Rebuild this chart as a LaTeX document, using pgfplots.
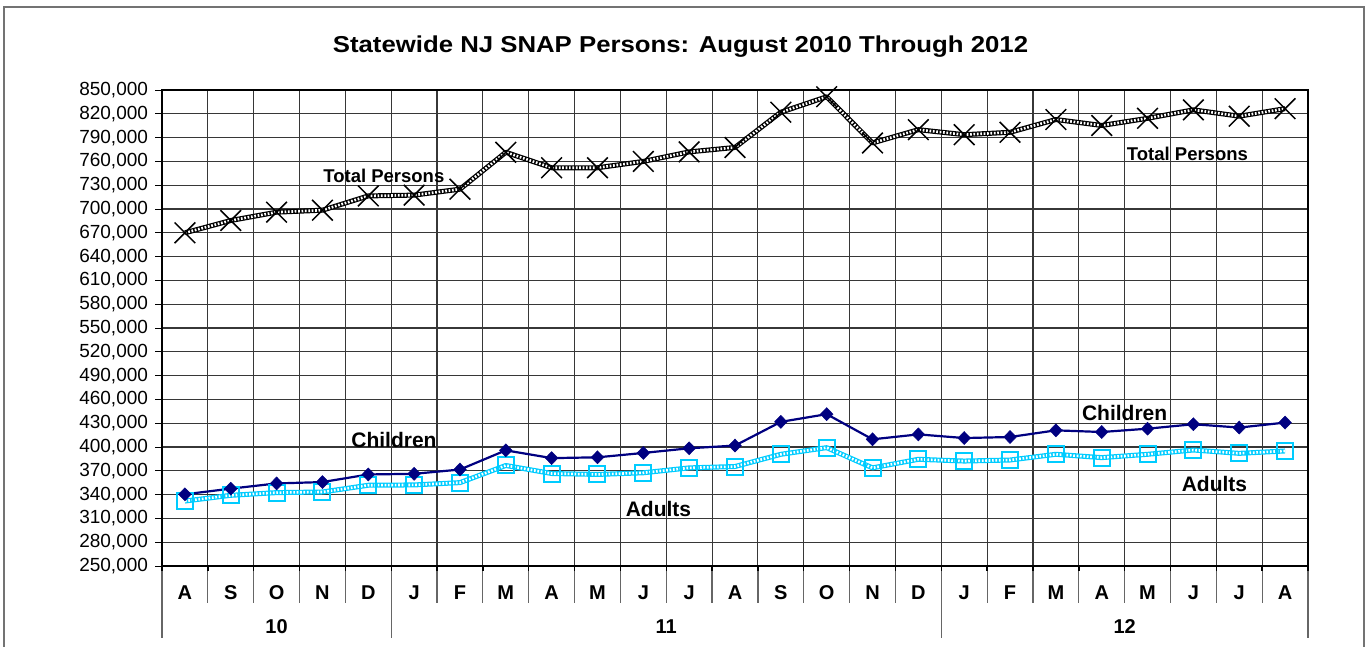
\documentclass[border=0pt]{standalone}
\usepackage{fontspec}
\setmainfont{Liberation Sans}
\newfontfamily\titlefont[FakeStretch=1.12]{Liberation Sans}
\usepackage{pgfplots}
\usepackage{pgfplotstable}
\pgfplotsset{compat=1.18}
\definecolor{navyc}{RGB}{0,0,128}
\definecolor{cyanc}{RGB}{0,204,255}
\definecolor{gridc}{RGB}{55,55,55}

\pgfplotstableread{
x total children adults
0 670000 340400 331900
1 685500 347500 339100
2 696000 354100 342500
3 698500 355800 343300
4 716500 365400 351800
5 717500 366200 352200
6 725000 371600 355100
7 771500 395800 376700
8 752000 386000 366600
9 752000 387000 365400
10 760000 392500 367500
11 772000 398400 373700
12 777600 401800 375400
13 822000 431700 390800
14 841500 441400 399200
15 783300 409700 373700
16 800000 415900 384500
17 793700 411300 382300
18 796700 412600 383600
19 812800 421000 390800
20 805300 418900 386600
21 814300 423100 390800
22 825000 428700 396200
23 817000 424500 392000
24 826500 430800 395000
}\snap

\begin{document}
\begin{tikzpicture}
\path[use as bounding box] (0,0) rectangle (1371bp,-647bp);
\draw[black!55, line width=1.3bp] (4bp,-650bp) -- (4bp,-7bp) -- (1364bp,-7bp) -- (1364bp,-650bp);
\node[font=\titlefont\fontsize{23bp}{27bp}\selectfont\bfseries] at (680.5bp,-47bp) {Statewide NJ SNAP Persons: August 2010 Through 2012};
\begin{axis}[
  at={(162bp,-566bp)}, anchor=south west,
  scale only axis, width=1146bp, height=476bp,
  xmin=-0.5, xmax=24.5, ymin=250000, ymax=850000,
  clip=false,
  xtick={0,...,24},
  xticklabels={},
  minor x tick num=1,
  xminorgrids,
  xtick style={draw=none},
  ytick={250000,280000,310000,340000,370000,400000,430000,460000,490000,520000,550000,580000,610000,640000,670000,700000,730000,760000,790000,820000,850000},
  ymajorgrids,
  ytick pos=left,
  tick align=outside,
  major tick length=7bp,
  ytick style={black, line width=1bp},
  scaled y ticks=false,
  yticklabel style={font=\fontsize{19bp}{22bp}\selectfont, xshift=-3.5bp,
    /pgf/number format/.cd, fixed, precision=0, 1000 sep={,}, assume math mode=true},
  grid style={gridc, line width=1.1bp},
  minor grid style={gridc, line width=1.1bp},
  axis line style={black, line width=1.3bp},
]
% Total persons
\addplot[black, line width=5bp, line join=round,
  postaction={draw=white, line width=2.6bp, dash pattern=on 1.7bp off 1.7bp}]
  table[x=x, y=total] {\snap};
\addplot[only marks, mark=x, mark size=14.6bp, mark options={black, line width=1.5bp}]
  table[x=x, y=total] {\snap};
% Adults
\addplot[cyanc, line width=5bp, line join=round,
  postaction={draw=white, line width=2.6bp, dash pattern=on 1.7bp off 1.7bp}]
  table[x=x, y=adults] {\snap};
\addplot[only marks, mark=square, mark size=8bp, mark options={cyanc, line width=2bp}]
  table[x=x, y=adults] {\snap};
% Children
\addplot[navyc, line width=2.2bp, mark=diamond*, mark size=6.5bp,
  mark options={navyc, xscale=1.3, line width=0.5bp}]
  table[x=x, y=children] {\snap};

% Series labels
\node[font=\fontsize{18.5bp}{21bp}\selectfont\bfseries] at (axis cs:4.34,741970) {Total Persons};
\node[font=\fontsize{18.5bp}{21bp}\selectfont\bfseries] at (axis cs:21.87,769300) {Total Persons};
\node[font=\fontsize{21bp}{24bp}\selectfont\bfseries] at (axis cs:4.56,408800) {Children};
\node[font=\fontsize{21bp}{24bp}\selectfont\bfseries] at (axis cs:20.5,442900) {Children};
\node[font=\fontsize{21bp}{24bp}\selectfont\bfseries] at (axis cs:10.33,321500) {Adults};
\node[font=\fontsize{21bp}{24bp}\selectfont\bfseries] at (axis cs:22.46,353400) {Adults};

% Category axis: month separators
\pgfplotsinvokeforeach{0.5,1.5,2.5,3.5,5.5,6.5,7.5,8.5,9.5,10.5,11.5,12.5,13.5,14.5,15.5,17.5,18.5,19.5,20.5,21.5,22.5,23.5}{
  \draw[black!60, line width=1.2bp] (axis cs:#1,250000) -- ([yshift=-37bp]axis cs:#1,250000);
  \draw[black, line width=1.4bp] (axis cs:#1,250000) -- ([yshift=-5bp]axis cs:#1,250000);
}
\pgfplotsinvokeforeach{-0.5,4.5,16.5,24.5}{
  \draw[black!60, line width=1.2bp] (axis cs:#1,250000) -- ([yshift=-72bp]axis cs:#1,250000);
  \draw[black, line width=1.4bp] (axis cs:#1,250000) -- ([yshift=-5bp]axis cs:#1,250000);
}
% Month labels
\foreach \m [count=\i from 0] in {A,S,O,N,D,J,F,M,A,M,J,J,A,S,O,N,D,J,F,M,A,M,J,J,A}{
  \edef\temp{\noexpand\node[anchor=base, yshift=-33bp, font=\noexpand\fontsize{20bp}{23bp}\noexpand\selectfont\noexpand\bfseries] at (axis cs:\i,250000) {\m};}
  \temp
}
% Year labels
\node[anchor=base, yshift=-67bp, font=\fontsize{20bp}{23bp}\selectfont\bfseries] at (axis cs:2,250000) {10};
\node[anchor=base, yshift=-67bp, font=\fontsize{20bp}{23bp}\selectfont\bfseries] at (axis cs:10.5,250000) {11};
\node[anchor=base, yshift=-67bp, font=\fontsize{20bp}{23bp}\selectfont\bfseries] at (axis cs:20.5,250000) {12};
\end{axis}
\end{tikzpicture}
\end{document}
